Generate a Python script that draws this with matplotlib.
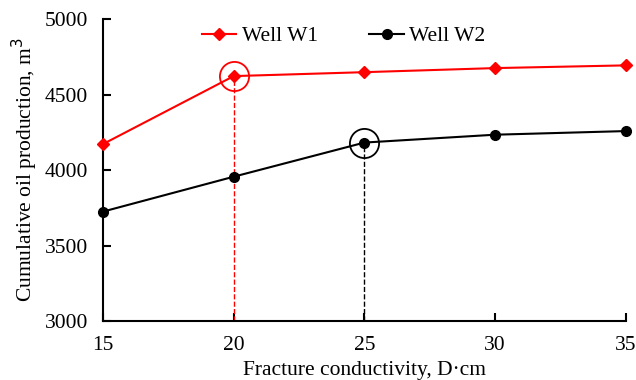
import matplotlib
matplotlib.use("Agg")
import matplotlib.pyplot as plt

plt.rcParams["font.family"] = ["Liberation Serif", "DejaVu Serif"]

conductivity = [15, 20, 25, 30, 35]
well_w1 = [4172, 4622, 4648, 4675, 4693]
well_w2 = [3725, 3956, 4182, 4234, 4258]

# optimum points marked with circles
opt_w1 = (20, 4622)
opt_w2 = (25, 4182)

fig = plt.figure(figsize=(6.36, 3.8), dpi=100)
ax = fig.add_axes([0.162, 0.155, 0.822, 0.795])

ax.plot(conductivity, well_w1, color="red", marker="D", markersize=6, lw=1.5, label="Well W1", clip_on=False, zorder=3)
ax.plot(conductivity, well_w2, color="black", marker="o", markersize=7, lw=1.5, label="Well W2", clip_on=False, zorder=3)

ax.plot([opt_w1[0], opt_w1[0]], [3000, opt_w1[1]], color="red", ls="--", lw=1, zorder=2)
ax.plot([opt_w2[0], opt_w2[0]], [3000, opt_w2[1]], color="black", ls="--", lw=1, zorder=2)
ax.plot(*opt_w1, marker="o", markersize=21, mfc="none", mec="red", mew=1.3, zorder=4)
ax.plot(*opt_w2, marker="o", markersize=21, mfc="none", mec="black", mew=1.3, zorder=4)

ax.set_xlim(15, 35)
ax.set_ylim(3000, 5000)
ax.set_xticks([15, 20, 25, 30, 35])
ax.set_yticks([3000, 3500, 4000, 4500, 5000])
ax.spines["top"].set_visible(False)
ax.spines["right"].set_visible(False)
ax.spines["left"].set_linewidth(1.5)
ax.spines["bottom"].set_linewidth(1.5)
ax.tick_params(direction="in", length=6, width=1.5, labelsize=15.5, pad=11)

ax.set_xlabel("Fracture conductivity, D·cm", fontsize=15.5, labelpad=4)
ax.set_ylabel("Cumulative oil production, m$^3$", fontsize=15.5, labelpad=3)

ax.legend(loc="upper center", ncol=2, frameon=False, fontsize=15.5, bbox_to_anchor=(0.46, 1.04),
          columnspacing=2.4, handlelength=1.6, handletextpad=0.25)

fig.savefig("out.png")
